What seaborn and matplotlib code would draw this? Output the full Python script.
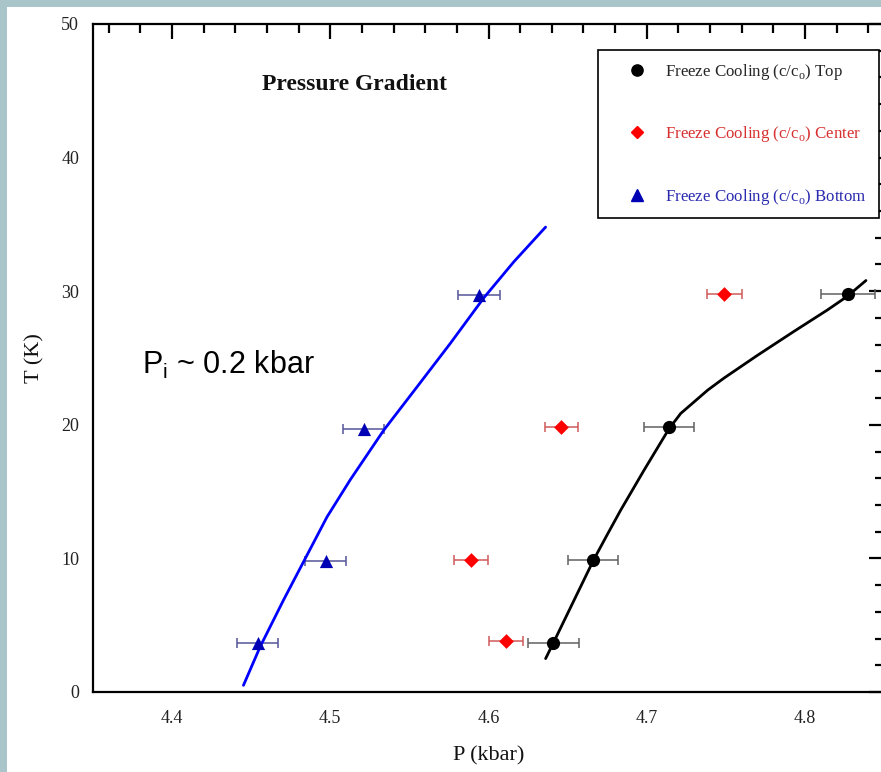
import matplotlib
matplotlib.use("Agg")
import matplotlib.pyplot as plt
from matplotlib.patches import Rectangle
from matplotlib.lines import Line2D
from matplotlib.ticker import MultipleLocator
import pandas as pd
import seaborn as sns

# Measured freeze-cooling points: pressure (kbar) vs temperature (K)
T_top = [3.7, 9.9, 19.8, 29.8]
P_top = [4.641, 4.666, 4.714, 4.827]
Perr_top = [0.016, 0.016, 0.016, 0.017]

T_center = [3.8, 9.9, 19.8, 29.8]
P_center = [4.611, 4.589, 4.646, 4.749]
Perr_center = [0.0105, 0.0105, 0.0105, 0.011]

T_bottom = [3.7, 9.8, 19.7, 29.7]
P_bottom = [4.454, 4.497, 4.521, 4.594]
Perr_bottom = [0.013, 0.013, 0.013, 0.013]

# Fitted curves (P, T) for top and bottom
fit_top_P = [4.6361, 4.6411, 4.6538, 4.6665, 4.6747, 4.6835, 4.6983, 4.7141,
             4.7215, 4.7386, 4.7489, 4.7700, 4.7932, 4.8143, 4.8266, 4.8386]
fit_top_T = [2.5, 3.7, 6.8, 9.9, 11.7, 13.6, 16.6, 19.7,
             20.85, 22.6, 23.5, 25.2, 27.0, 28.6, 29.6, 30.8]

fit_bottom_P = [4.4451, 4.4557, 4.4705, 4.4842, 4.4979, 4.5127, 4.5338,
                4.5549, 4.5759, 4.5970, 4.6160, 4.6361]
fit_bottom_T = [0.5, 3.4, 6.9, 10.0, 13.1, 15.9, 19.6,
                22.85, 26.1, 29.5, 32.2, 34.8]

labels = ["Freeze Cooling (c/c$_\\mathregular{o}$) Top",
          "Freeze Cooling (c/c$_\\mathregular{o}$) Center",
          "Freeze Cooling (c/c$_\\mathregular{o}$) Bottom"]

sns.set_theme(style="white")
plt.rcParams["font.family"] = ["Liberation Serif", "DejaVu Serif"]
plt.rcParams["mathtext.fontset"] = "custom"
plt.rcParams["mathtext.rm"] = "Liberation Serif"
plt.rcParams["mathtext.sf"] = "Liberation Sans"

W, H = 881, 772
fig = plt.figure(figsize=(W / 100, H / 100), dpi=100)
fig.patch.set_facecolor("#a9c5c9")
fig.add_artist(Rectangle((7 / W, 0), 1, (H - 7) / H, transform=fig.transFigure,
                         facecolor="white", edgecolor="none", zorder=0))

ax = fig.add_axes([93 / W, (H - 692) / H, (884 - 93) / W, (692 - 24) / H])
ax.set_facecolor("white")

series = [
    (P_top, T_top, Perr_top, "black", "#606060", "o", 9.5),
    (P_center, T_center, Perr_center, "#ff0000", "#d05a5a", "D", 7.5),
    (P_bottom, T_bottom, Perr_bottom, "#0000b4", "#55559a", "^", 9.5),
]

for P, T, err, col, ecol, mk, ms in series:
    ax.errorbar(P, T, xerr=err, fmt="none", ecolor=ecol, elinewidth=1.1,
                capsize=3.5, capthick=1.1, zorder=2)

lines = pd.DataFrame({"P": fit_top_P, "T": fit_top_T})
sns.lineplot(data=lines, x="P", y="T", sort=False, color="black", lw=2.0,
             ax=ax, zorder=3)
lines_b = pd.DataFrame({"P": fit_bottom_P, "T": fit_bottom_T})
sns.lineplot(data=lines_b, x="P", y="T", sort=False, color="#0000ff", lw=2.0,
             ax=ax, zorder=3)

for P, T, err, col, ecol, mk, ms in series:
    sns.scatterplot(x=P, y=T, marker=mk, color=col, s=ms ** 2, edgecolor=col,
                    linewidth=0, ax=ax, zorder=4)

ax.set_xlim(4.35, 4.85)
ax.set_ylim(0, 50)
ax.xaxis.set_major_locator(MultipleLocator(0.1))
ax.xaxis.set_minor_locator(MultipleLocator(0.02))
ax.yaxis.set_major_locator(MultipleLocator(10))
ax.yaxis.set_minor_locator(MultipleLocator(2))
ax.set_xticks([4.4, 4.5, 4.6, 4.7, 4.8])
ax.set_xticklabels(["4.4", "4.5", "4.6", "4.7", "4.8"])

ax.tick_params(which="both", direction="in", top=True, right=True,
               width=1.6, colors="black", labelcolor="#222222", labelsize=13)
ax.tick_params(which="major", length=11, pad=10)
ax.tick_params(which="minor", length=6.5)
ax.tick_params(axis="x", which="major", pad=13)
for sp in ax.spines.values():
    sp.set_visible(True)
    sp.set_color("black")
    sp.set_linewidth(1.6)

ax.set_xlabel("P (kbar)", fontsize=16, color="#111111", labelpad=14)
ax.set_ylabel("T (K)", fontsize=16, color="#111111", labelpad=12)

ax.text(0.33, 0.909, "Pressure Gradient", transform=ax.transAxes,
        fontsize=17, fontweight="bold", ha="center", va="center", color="#111111")
fig.text(142 / W, 1 - 374 / H, "$\\mathsf{P}_\\mathsf{i}$ ~ 0.2 kbar",
         family="Liberation Sans", fontsize=22, ha="left", va="baseline",
         color="black")

handles = [Line2D([], [], ls="none", marker=mk, color=col, markersize=ms * 0.85)
           for _, _, _, col, _, mk, ms in series]
leg = ax.legend(handles, labels, loc="upper left",
                bbox_to_anchor=(598 / W, 1 - 50 / H), bbox_transform=fig.transFigure,
                frameon=True, fancybox=False, edgecolor="black", framealpha=1,
                fontsize=12.2, labelspacing=2.5, handletextpad=0.0,
                borderpad=0.7, handlelength=3.25, borderaxespad=0)
leg.get_frame().set_linewidth(1.2)
for txt, col in zip(leg.get_texts(), ["#262626", "#d83030", "#2a2ab0"]):
    txt.set_color(col)

fig.savefig("out.png", dpi=100, facecolor=fig.get_facecolor())
